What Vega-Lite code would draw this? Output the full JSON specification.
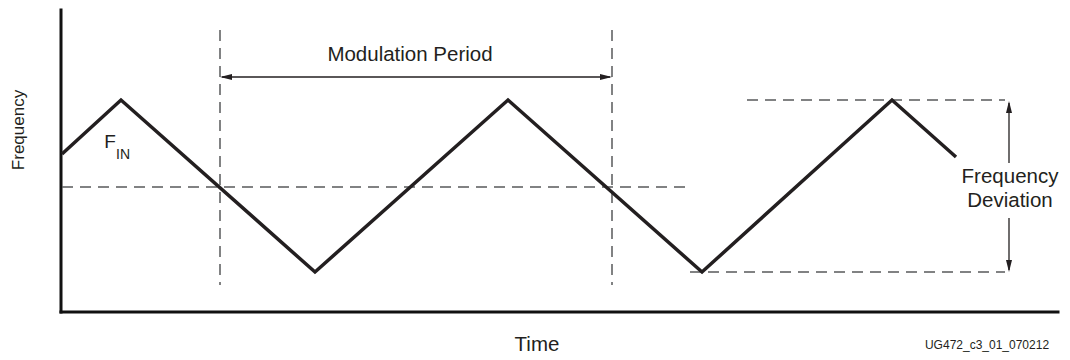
{
  "$schema": "https://vega.github.io/schema/vega-lite/v6.json",
  "width": 1070,
  "height": 360,
  "padding": 0,
  "autosize": {"type": "fit", "contains": "padding"},
  "config": {"view": {"stroke": null}, "text": {"font": "Liberation Sans", "color": "#231f20"}},
  "datasets": {
    "wave": [
      {"t": 62, "f": 206}, {"t": 121, "f": 260}, {"t": 315, "f": 88}, {"t": 508, "f": 260},
      {"t": 702, "f": 88}, {"t": 892, "f": 260}, {"t": 956, "f": 203}
    ],
    "axes": [
      {"t": 61, "t2": 61, "f": 350, "f2": 48},
      {"t": 61, "t2": 1058, "f": 48, "f2": 48}
    ],
    "dashed": [
      {"t": 62, "t2": 690, "f": 173, "f2": 173},
      {"t": 220, "t2": 220, "f": 330, "f2": 75},
      {"t": 612, "t2": 612, "f": 330, "f2": 75},
      {"t": 747, "t2": 1005, "f": 260, "f2": 260},
      {"t": 690, "t2": 1005, "f": 88, "f2": 88}
    ],
    "arrows": [
      {"t": 222, "t2": 610, "f": 283, "f2": 283},
      {"t": 1009, "t2": 1009, "f": 257, "f2": 197},
      {"t": 1009, "t2": 1009, "f": 142, "f2": 90}
    ],
    "headLeft": [{"t": 220, "f": 283}],
    "headRight": [{"t": 612, "f": 283}],
    "headUp": [{"t": 1009, "f": 259}],
    "headDown": [{"t": 1009, "f": 88}]
  },
  "layer": [
    {
      "data": {"name": "axes"},
      "mark": {"type": "rule", "color": "#111111", "strokeWidth": 3, "strokeCap": "square"},
      "encoding": {
        "x": {"field": "t", "type": "quantitative", "scale": {"domain": [0, 1070], "nice": false, "zero": false}, "axis": null},
        "x2": {"field": "t2"},
        "y": {"field": "f", "type": "quantitative", "scale": {"domain": [0, 360], "nice": false, "zero": false}, "axis": null},
        "y2": {"field": "f2"}
      }
    },
    {
      "data": {"name": "dashed"},
      "mark": {"type": "rule", "color": "#58595b", "strokeWidth": 1.5, "strokeDash": [11, 7]},
      "encoding": {
        "x": {"field": "t", "type": "quantitative", "scale": {"domain": [0, 1070], "nice": false, "zero": false}, "axis": null},
        "x2": {"field": "t2"},
        "y": {"field": "f", "type": "quantitative", "scale": {"domain": [0, 360], "nice": false, "zero": false}, "axis": null},
        "y2": {"field": "f2"}
      }
    },
    {
      "data": {"name": "arrows"},
      "mark": {"type": "rule", "color": "#231f20", "strokeWidth": 1.3},
      "encoding": {
        "x": {"field": "t", "type": "quantitative", "scale": {"domain": [0, 1070], "nice": false, "zero": false}, "axis": null},
        "x2": {"field": "t2"},
        "y": {"field": "f", "type": "quantitative", "scale": {"domain": [0, 360], "nice": false, "zero": false}, "axis": null},
        "y2": {"field": "f2"}
      }
    },
    {
      "data": {"name": "headLeft"},
      "mark": {"type": "point", "filled": true, "color": "#231f20", "size": 144, "opacity": 1, "shape": "M0,0L2,-0.5L2,0.5Z"},
      "encoding": {
        "x": {"field": "t", "type": "quantitative", "scale": {"domain": [0, 1070], "nice": false, "zero": false}, "axis": null},
        "y": {"field": "f", "type": "quantitative", "scale": {"domain": [0, 360], "nice": false, "zero": false}, "axis": null}
      }
    },
    {
      "data": {"name": "headRight"},
      "mark": {"type": "point", "filled": true, "color": "#231f20", "size": 144, "opacity": 1, "shape": "M0,0L-2,-0.5L-2,0.5Z"},
      "encoding": {
        "x": {"field": "t", "type": "quantitative", "scale": {"domain": [0, 1070], "nice": false, "zero": false}, "axis": null},
        "y": {"field": "f", "type": "quantitative", "scale": {"domain": [0, 360], "nice": false, "zero": false}, "axis": null}
      }
    },
    {
      "data": {"name": "headUp"},
      "mark": {"type": "point", "filled": true, "color": "#231f20", "size": 144, "opacity": 1, "shape": "M0,0L-0.5,2L0.5,2Z"},
      "encoding": {
        "x": {"field": "t", "type": "quantitative", "scale": {"domain": [0, 1070], "nice": false, "zero": false}, "axis": null},
        "y": {"field": "f", "type": "quantitative", "scale": {"domain": [0, 360], "nice": false, "zero": false}, "axis": null}
      }
    },
    {
      "data": {"name": "headDown"},
      "mark": {"type": "point", "filled": true, "color": "#231f20", "size": 144, "opacity": 1, "shape": "M0,0L-0.5,-2L0.5,-2Z"},
      "encoding": {
        "x": {"field": "t", "type": "quantitative", "scale": {"domain": [0, 1070], "nice": false, "zero": false}, "axis": null},
        "y": {"field": "f", "type": "quantitative", "scale": {"domain": [0, 360], "nice": false, "zero": false}, "axis": null}
      }
    },
    {
      "data": {"name": "wave"},
      "mark": {"type": "line", "color": "#231f20", "strokeWidth": 3.5, "strokeJoin": "miter"},
      "encoding": {
        "x": {"field": "t", "type": "quantitative", "scale": {"domain": [0, 1070], "nice": false, "zero": false}, "axis": null},
        "y": {"field": "f", "type": "quantitative", "scale": {"domain": [0, 360], "nice": false, "zero": false}, "axis": null}
      }
    },
    {
      "data": {"values": [
        {"t": 410, "f": 305, "label": "Modulation Period"},
        {"t": 1010, "f": 183, "label": "Frequency"},
        {"t": 1010, "f": 159, "label": "Deviation"},
        {"t": 537, "f": 15, "label": "Time"}
      ]},
      "mark": {"type": "text", "fontSize": 20.5, "align": "center", "baseline": "middle"},
      "encoding": {
        "x": {"field": "t", "type": "quantitative", "scale": {"domain": [0, 1070], "nice": false, "zero": false}, "axis": null},
        "y": {"field": "f", "type": "quantitative", "scale": {"domain": [0, 360], "nice": false, "zero": false}, "axis": null},
        "text": {"field": "label"}
      }
    },
    {
      "data": {"values": [{"t": 19, "f": 230, "label": "Frequency"}]},
      "mark": {"type": "text", "fontSize": 17, "align": "center", "baseline": "middle", "angle": 270},
      "encoding": {
        "x": {"field": "t", "type": "quantitative", "scale": {"domain": [0, 1070], "nice": false, "zero": false}, "axis": null},
        "y": {"field": "f", "type": "quantitative", "scale": {"domain": [0, 360], "nice": false, "zero": false}, "axis": null},
        "text": {"field": "label"}
      }
    },
    {
      "data": {"values": [{"t": 110, "f": 212, "label": "F"}]},
      "mark": {"type": "text", "fontSize": 19, "align": "center", "baseline": "alphabetic"},
      "encoding": {
        "x": {"field": "t", "type": "quantitative", "scale": {"domain": [0, 1070], "nice": false, "zero": false}, "axis": null},
        "y": {"field": "f", "type": "quantitative", "scale": {"domain": [0, 360], "nice": false, "zero": false}, "axis": null},
        "text": {"field": "label"}
      }
    },
    {
      "data": {"values": [{"t": 116, "f": 201, "label": "IN"}]},
      "mark": {"type": "text", "fontSize": 14, "align": "left", "baseline": "alphabetic"},
      "encoding": {
        "x": {"field": "t", "type": "quantitative", "scale": {"domain": [0, 1070], "nice": false, "zero": false}, "axis": null},
        "y": {"field": "f", "type": "quantitative", "scale": {"domain": [0, 360], "nice": false, "zero": false}, "axis": null},
        "text": {"field": "label"}
      }
    },
    {
      "data": {"values": [{"t": 987, "f": 15, "label": "UG472_c3_01_070212"}]},
      "mark": {"type": "text", "fontSize": 12, "align": "center", "baseline": "middle"},
      "encoding": {
        "x": {"field": "t", "type": "quantitative", "scale": {"domain": [0, 1070], "nice": false, "zero": false}, "axis": null},
        "y": {"field": "f", "type": "quantitative", "scale": {"domain": [0, 360], "nice": false, "zero": false}, "axis": null},
        "text": {"field": "label"}
      }
    }
  ]
}
